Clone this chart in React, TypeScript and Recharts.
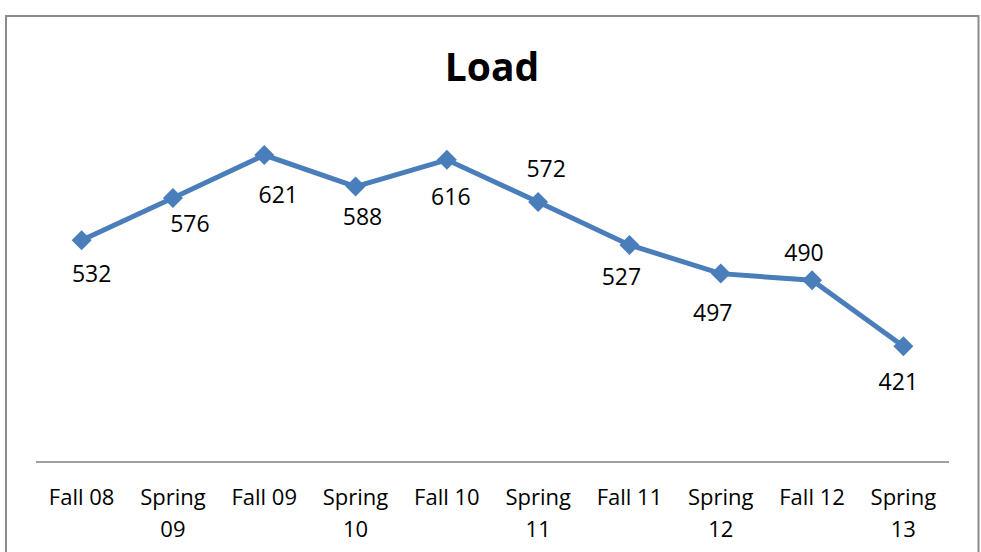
import { LineChart, Line, XAxis, YAxis, LabelList } from "recharts";

const categories = [
    "Fall 08",
    "Spring 09",
    "Fall 09",
    "Spring 10",
    "Fall 10",
    "Spring 11",
    "Fall 11",
    "Spring 12",
    "Fall 12",
    "Spring 13",
];
const loadValues = [532, 576, 621, 588, 616, 572, 527, 497, 490, 421];

// hand-placed label nudges (dx, dy from the marker to the label centre)
const labelNudges: [number, number][] = [
    [10, 34],
    [17, 26],
    [14, 40],
    [7, 30],
    [4, 37],
    [8, -33],
    [-8, 32],
    [-8, 39],
    [-8, -27],
    [-5, 36],
];

const data = categories.map((name, i) => ({ name, load: loadValues[i] }));

const FONT = "'Open Sans', sans-serif";
const BLUE = "#4a7ebb";

const Diamond = (props: any) => {
    const { cx, cy } = props;
    if (cx == null || cy == null) return null;
    const r = 10;
    return (
        <path
            d={`M${cx},${cy - r}L${cx + r},${cy}L${cx},${cy + r}L${cx - r},${cy}Z`}
            fill={BLUE}
        />
    );
};

const ValueLabel = (props: any) => {
    const { x, y, value, index } = props;
    const [dx, dy] = labelNudges[index] || [0, 30];
    return (
        <text
            x={x + dx}
            y={y + dy + 8}
            textAnchor="middle"
            fontFamily={FONT}
            fontSize={23}
            fill="#000"
        >
            {value}
        </text>
    );
};

const CategoryTick = (props: any) => {
    const { x, y, payload } = props;
    const label: string = payload.value;
    const lines = label.length > 7 ? label.split(" ") : [label];
    return (
        <text
            x={x}
            y={y + 43}
            textAnchor="middle"
            fontFamily={FONT}
            fontSize={22}
            fill="#000"
        >
            {lines.map((ln, i) => (
                <tspan key={i} x={x} dy={i === 0 ? 0 : 32}>
                    {ln}
                </tspan>
            ))}
        </text>
    );
};

const App = () => {
    return (
        <div
            style={{
                position: "absolute",
                left: 0,
                top: 0,
                width: 981,
                height: 552,
                overflow: "hidden",
                background: "#fff",
            }}
        >
            <LineChart
                width={981}
                height={552}
                data={data}
                margin={{ top: 79.5, right: 32, left: 36, bottom: 0 }}
            >
                <XAxis
                    dataKey="name"
                    axisLine={{ stroke: "#a0a0a0", strokeWidth: 2 }}
                    tickLine={false}
                    tickSize={0}
                    tickMargin={0}
                    interval={0}
                    padding={{ left: 45.65, right: 45.65 }}
                    tick={<CategoryTick />}
                    height={90}
                />
                <YAxis hide domain={[300, 700]} width={0} />
                <Line
                    type="linear"
                    dataKey="load"
                    stroke={BLUE}
                    strokeWidth={5}
                    dot={<Diamond />}
                    activeDot={false}
                    isAnimationActive={false}
                >
                    <LabelList dataKey="load" content={<ValueLabel />} />
                </Line>
            </LineChart>
            <svg
                width={981}
                height={552}
                style={{ position: "absolute", left: 0, top: 0, pointerEvents: "none" }}
            >
                <rect
                    x={6}
                    y={16}
                    width={972.5}
                    height={600}
                    fill="none"
                    stroke="#8c8c8c"
                    strokeWidth={2}
                />
                <text
                    x={492}
                    y={81}
                    textAnchor="middle"
                    fontFamily={FONT}
                    fontWeight="bold"
                    fontSize={39}
                    fill="#000"
                >
                    Load
                </text>
            </svg>
        </div>
    );
};

export default App;
